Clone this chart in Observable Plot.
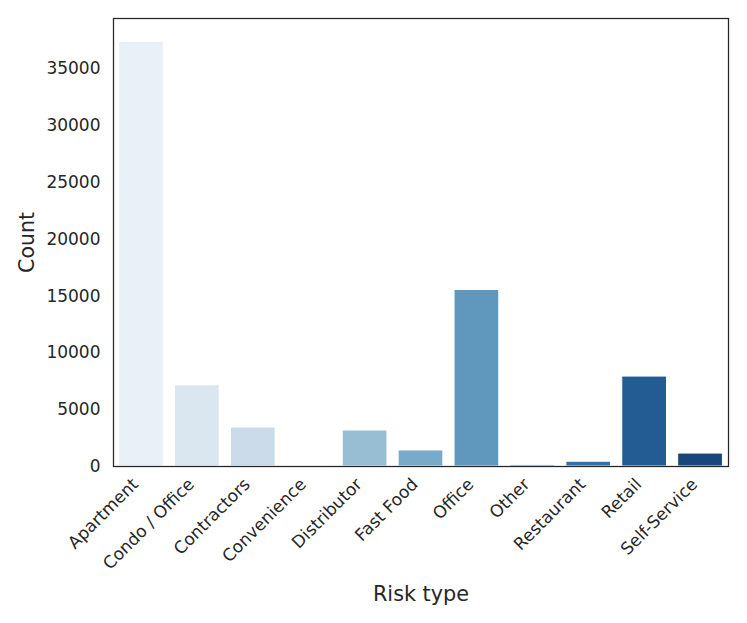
<!DOCTYPE html>
<html>
<head>
<meta charset="utf-8">
<script src="https://cdn.jsdelivr.net/npm/d3@7"></script>
<script src="https://cdn.jsdelivr.net/npm/@observablehq/plot@0.6"></script>
<style>
  html, body { margin: 0; padding: 0; background: #fff; }
  #chart { width: 747px; height: 623px; }
</style>
</head>
<body>
<div id="chart"></div>
<script>
const categories = ["Apartment", "Condo / Office", "Contractors", "Convenience", "Distributor", "Fast Food", "Office", "Other", "Restaurant", "Retail", "Self-Service"];
const counts = [37400, 7150, 3430, 15, 3170, 1410, 15550, 120, 420, 7920, 1140];
const colors = ["#e9f0f8", "#dae6f0", "#cbdbea", "#b2cedf", "#97bed3", "#78abc9", "#5f98bc", "#4884af", "#3470a3", "#235c92", "#19477c"];
const yTicks = [0, 5000, 10000, 15000, 20000, 25000, 30000, 35000];
const xLabel = "Risk type";
const yLabel = "Count";

const data = categories.map((c, i) => ({category: c, count: counts[i]}));
const ink = "#262626";

const chart = Plot.plot({
  width: 747,
  height: 623,
  marginLeft: 113,
  marginRight: 19,
  marginTop: 18,
  marginBottom: 157,
  style: {fontFamily: "DejaVu Sans", fontSize: "17px", color: ink, background: "#fff"},
  x: {domain: categories, paddingInner: 0.2, paddingOuter: 0.1, round: false, label: null},
  y: {domain: [0, 39450], label: null},
  color: {domain: categories, range: colors},
  marks: [
    Plot.barY(data, {x: "category", y: "count", fill: "category", stroke: "white", strokeWidth: 1}),
    Plot.axisY({ticks: yTicks, tickFormat: "d", tickSize: 0, tickPadding: 13, label: null, fontSize: 17}),
    Plot.axisX({tickSize: 0, tickRotate: -45, tickPadding: 15, dx: -6, label: null, fontSize: 17}),
    Plot.frame({stroke: ink, strokeWidth: 1.25}),
    Plot.text([xLabel], {frameAnchor: "bottom", dy: 128, fontSize: 20.8, fill: ink, lineAnchor: "middle"}),
    Plot.text([yLabel], {frameAnchor: "left", dx: -86, rotate: -90, fontSize: 20.5, fill: ink, lineAnchor: "middle", textAnchor: "middle"})
  ]
});
document.getElementById("chart").appendChild(chart);
</script>
</body>
</html>
